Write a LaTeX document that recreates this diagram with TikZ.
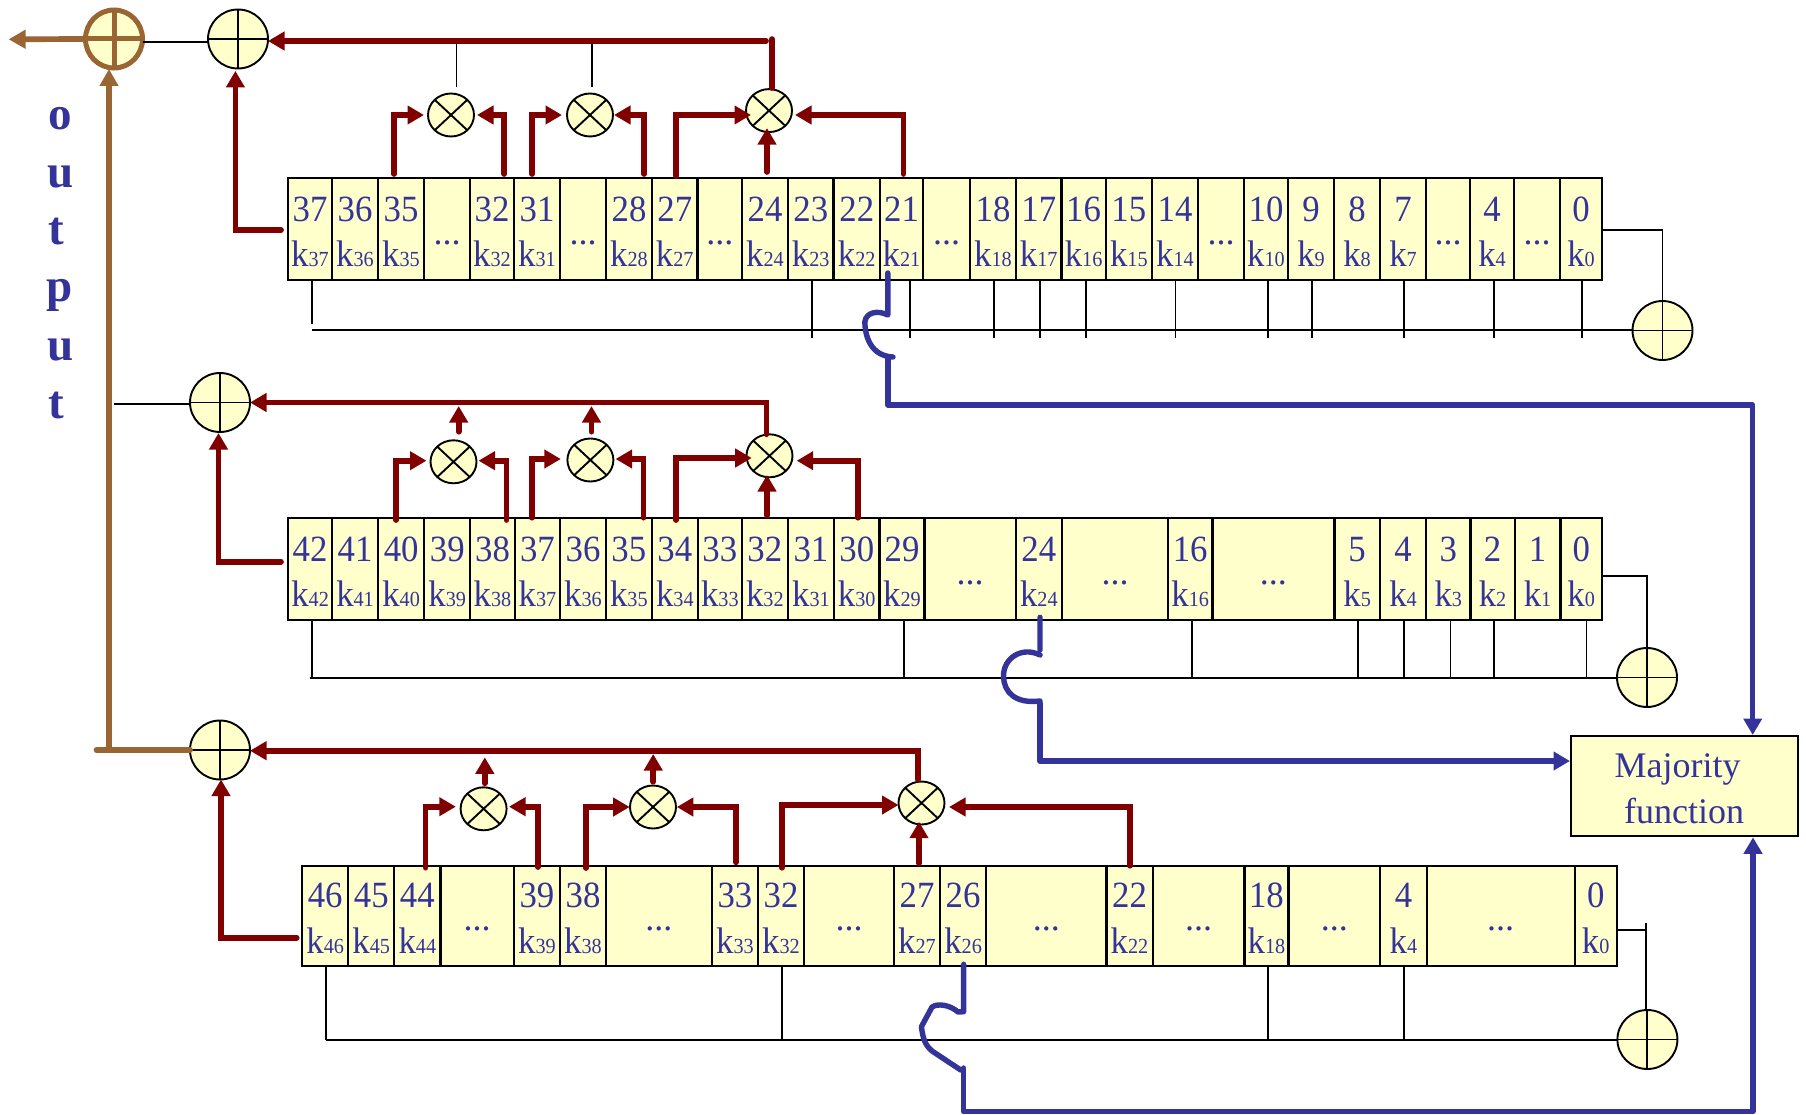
\documentclass[tikz,border=0pt]{standalone}
\usepackage{fontspec}
\setmainfont{Liberation Serif}
\newfontfamily\cellfam[FakeStretch=0.94]{Liberation Serif}
\usetikzlibrary{arrows.meta,shapes.geometric}
\definecolor{yel}{HTML}{FFFFCC}
\definecolor{dred}{HTML}{800000}
\definecolor{dblue}{HTML}{333399}
\definecolor{brn}{HTML}{996633}
\newcommand\bigf{\fontsize{36}{36}\selectfont}
\newcommand\celf{\cellfam\fontsize{37}{37}\selectfont}
\newcommand\subf{\cellfam\fontsize{21.5}{21.5}\selectfont}
\newcommand\outf{\fontsize{47}{47}\selectfont\bfseries}
\tikzset{
  cellbox/.style={draw=black,fill=yel,line width=2.2pt,inner sep=0pt,outer sep=0pt},
  txt/.style={text=dblue,anchor=base,inner sep=0pt,outer sep=0pt},
  wire/.style={draw=black,line width=1.8pt},
  xorn/.style={ellipse,draw=black,fill=yel,line width=1.9pt,inner sep=0pt,outer sep=0pt,minimum width=60pt,minimum height=59pt,
    path picture={\draw[line width=1.9pt] (path picture bounding box.north)--(path picture bounding box.south) (path picture bounding box.west)--(path picture bounding box.east);}},
  andn/.style={ellipse,draw=black,fill=yel,line width=1.9pt,inner sep=0pt,outer sep=0pt,minimum width=46pt,minimum height=43pt,
    path picture={\draw[line width=1.9pt] (path picture bounding box.north west)--(path picture bounding box.south east) (path picture bounding box.north east)--(path picture bounding box.south west);}},
  brownx/.style={ellipse,draw=brn,fill=yel,line width=5pt,inner sep=0pt,outer sep=0pt,minimum width=57pt,minimum height=58pt,
    path picture={\draw[line width=5pt,brn] (path picture bounding box.north)--(path picture bounding box.south) (path picture bounding box.west)--(path picture bounding box.east);}},
  redln/.style={draw=dred,line width=5.7pt,line cap=round},
  redar/.style={redln,-{Triangle[length=16.5pt,width=18pt]}},
  blueln/.style={draw=dblue,line width=5.4pt,line cap=round,line join=round},
  bluear/.style={blueln,-{Triangle[length=16.5pt,width=18pt]}},
  brnar/.style={draw=brn,line width=5.7pt,-{Triangle[length=17pt,width=18pt]}},
}
% #1 register, #2 centre y, #3 height, #4 digit baseline, #5 k baseline, #6 dots baseline, #7 numbered cells, #8 dots cells
\newcommand\regcells[8]{%
  \foreach \xa/\xb/\lab in {#7}{%
    \pgfmathsetmacro\cwid{\xb-\xa}\pgfmathsetmacro\ccx{(\xa+\xb)/2}%
    \node[cellbox,minimum width=\cwid pt,minimum height=#3pt] (#1c\lab) at (\ccx,#2) {};
    \node[txt] (#1n\lab) at (\ccx,#4) {\celf\lab};
    \node[txt] (#1k\lab) at (\ccx,#5) {\celf k\subf\lab};
  }%
  \foreach \xa/\xb/\lab in {#8}{%
    \pgfmathsetmacro\cwid{\xb-\xa}\pgfmathsetmacro\ccx{(\xa+\xb)/2}%
    \node[cellbox,minimum width=\cwid pt,minimum height=#3pt] (#1d\lab) at (\ccx,#2) {};
    \node[txt] (#1e\lab) at (\ccx,#6) {\bigf ...};
  }%
}
\begin{document}
\begin{tikzpicture}[x=1pt,y=-1pt]
\useasboundingbox (0,0) rectangle (1806,1115);

% ---------- registers
\regcells{r1}{228.85}{102.3}{222}{266}{244.5}{288/332/37,332/378/36,378/424/35,470/514/32,514/560/31,606/652/28,652/697.5/27,742/788/24,788/833.5/23,833.5/880/22,880/923/21,970/1016/18,1016/1061.5/17,1061.5/1105.6/16,1105.6/1152/15,1152/1198/14,1244/1288/10,1288/1334/9,1334/1380/8,1380/1426/7,1470/1514/4,1560/1602/0}{424/470/1,560/606/2,697.5/742/3,923/970/4,1198/1244/5,1426/1470/6,1514/1560/7}
\regcells{r2}{568.85}{102.3}{561.7}{606}{584.5}{288.2/332/42,332/378.1/41,378.1/424.2/40,424.2/470.3/39,470.3/514.7/38,514.7/560.2/37,560.2/605.8/36,605.8/651.8/35,651.8/697.9/34,697.9/741.8/33,741.8/787.9/32,787.9/834/31,834/879.5/30,879.5/924.5/29,1015.7/1062/24,1168/1212.4/16,1334.5/1379.8/5,1379.8/1426.2/4,1426.2/1470.4/3,1470.4/1514.6/2,1514.6/1560.4/1,1560.4/1602/0}{924.5/1015.7/1,1062/1168/2,1212.4/1334.5/3}
\regcells{r3}{915.7}{100}{907.3}{953.3}{930.5}{302.2/348.2/46,348.2/394.3/45,394.3/440.4/44,513.9/560/39,560/606/38,711.9/758/33,758/804/32,894/940/27,940/986.1/26,1106.4/1152.6/22,1244.5/1288.4/18,1380.3/1426.6/4,1574.6/1616.8/0}{440.4/513.9/1,606/711.9/2,804/894/3,986.1/1106.4/4,1152.6/1244.5/5,1288.4/1380.3/6,1426.6/1574.6/7}

% ---------- logic gates
\node[brownx] (bx) at (114,39) {};
\node[xorn] (x1) at (238,39) {};
\node[xorn] (x2) at (220,402.5) {};
\node[xorn] (x3) at (220,750) {};
\node[xorn] (xr1) at (1662.5,330.5) {};
\node[xorn] (xr2) at (1647,677.5) {};
\node[xorn] (xr3) at (1647.4,1039.5) {};
\node[andn] (a11) at (451,115) {};
\node[andn] (a12) at (590,115) {};
\node[andn] (a13) at (769,110.6) {};
\node[andn] (a21) at (453.5,461.8) {};
\node[andn] (a22) at (590.4,460) {};
\node[andn] (a23) at (769.5,455.8) {};
\node[andn] (a31) at (483.6,808.8) {};
\node[andn] (a32) at (653,807) {};
\node[andn] (a33) at (921.5,803) {};

% ---------- majority box
\node[cellbox,minimum width=227pt,minimum height=99.7pt] (maj) at (1684.5,785.85) {};
\node[txt] (majt) at (1677.6,777) {\bigf Majority};
\node[txt] (funt) at (1684,823) {\bigf function};

% ---------- output text
\node[txt] (o1) at (60,130) {\outf o};
\node[txt] (o2) at (61,188) {\outf u};
\node[txt] (o3) at (56,245) {\outf t};
\node[txt] (o4) at (60,301) {\outf p};
\node[txt] (o5) at (61,360) {\outf u};
\node[txt] (o6) at (56,418) {\outf t};

% ---------- bus lines and taps, register 1
\coordinate (b1) at (311.7,330);
\draw[wire] (b1) -- (b1 -| xr1.west);
\foreach \c/\d/\l in {37/2/44,23/1/58,21/8.5/58,18/1/58,17/1.4/58,16/2.5/58,14/.5/58,10/2/58,9/1/58,7/.6/58,4/2/58,0/.6/58}
  \draw[wire] ([xshift=\d pt]r1c\c.south) -- ++(0,\l);
\draw[wire] ([yshift=-1.15pt]r1c0.east) -| (xr1.north);
% register 2
\coordinate (b2) at (310,678);
\draw[wire] (b2) -- (b2 -| xr2.west);
\foreach \c/\d in {42/1.6,29/2,16/1.8,5/.85,4/1,3/2.2,2/1.5,0/5.25}
  \draw[wire] ([xshift=\d pt]r2c\c.south) -- ++(0,58);
\draw[wire] ([yshift=-7.15pt]r2c0.east) -| (xr2.north);
% register 3
\coordinate (b3) at (326.3,1040);
\draw[wire] (b3) -- (b3 -| xr3.west);
\foreach \c/\d in {46/1.1,32/1,18/1.75,4/.55}
  \draw[wire] ([xshift=\d pt]r3c\c.south) -- ++(0,74.3);
\draw[wire] ([yshift=-14.3pt]r3c0.east) -- ++(29.2,0);
\draw[wire] ([xshift=-1.2pt,yshift=87pt]xr3.north) -- ([xshift=-1.2pt]xr3.north);

% ---------- brown output network
\coordinate (outend) at (8.6,39.3);
\coordinate (brj) at (109,750);
\coordinate (brl) at (96.5,750);
\draw[wire] ([yshift=-3pt]bx.east) -- ([yshift=-3pt]x1.west);
\coordinate (w2) at (113.7,403.7);
\draw[wire] (w2) -- (w2 -| x2.west);
\draw[brnar] (bx.west) -- (outend);
\draw[brnar] (brj) -- ([xshift=-5pt,yshift=-1pt]bx.south);
\draw[draw=brn,line width=5.7pt,line cap=round] (brl) -- (x3.west);

% ---------- register 1 top
\coordinate (t11) at (456.4,86.7);
\coordinate (t12) at (592,86.7);
\draw[wire] (t11) -- ++(0,-45.7);
\draw[wire] (t12) -- ++(0,-45.7);
\coordinate (bar1) at (766,41);
\draw[redar] (bar1) -- (bar1 -| x1.east);
\draw[redln] ([xshift=3pt,yshift=1pt]a13.north) -- ++(0,-49);
\draw[redar] ([xshift=-6.9pt,yshift=3.7pt]r1c35.north) |- ([xshift=-4pt]a11.west);
\draw[redar] ([xshift=12.3pt,yshift=3.7pt]r1c32.north) |- ([xshift=3pt]a11.east);
\draw[redar] ([xshift=-4.75pt,yshift=3.7pt]r1c31.north) |- ([xshift=-5pt]a12.west);
\draw[redar] ([xshift=15.2pt,yshift=3.7pt]r1c28.north) |- ([xshift=1pt]a12.east);
\draw[redar] ([xshift=1.5pt,yshift=1.7pt]r1c27.north) |- ([xshift=5pt,yshift=-4.4pt]a13.west);
\draw[redar] ([xshift=1.9pt,yshift=3.7pt]r1c21.north) |- ([xshift=3pt,yshift=-4.4pt]a13.east);
\draw[redar] ([xshift=2pt,yshift=5.7pt]r1c24.north) -- ([xshift=-2pt,yshift=4pt]a13.south);
\draw[redar] ([xshift=-7pt,yshift=-1.15pt]r1c37.west) -| ([xshift=-2.6pt,yshift=-2.4pt]x1.south);

% ---------- register 2 top
\draw[redar] ([xshift=-3pt]a23.north) |- (x2.east);
\draw[redar] ([xshift=5.2pt,yshift=8.6pt]a21.north) -- ++(0,-25.7);
\draw[redar] ([xshift=1.1pt,yshift=6.8pt]a22.north) -- ++(0,-25.7);
\draw[redar] ([xshift=-5pt,yshift=-2.3pt]r2c40.north) |- ([xshift=-4pt,yshift=1.1pt]a21.west);
\draw[redar] ([xshift=14pt,yshift=-2.3pt]r2c38.north) |- ([xshift=2pt,yshift=1.1pt]a21.east);
\draw[redar] ([xshift=-5.75pt]r2c37.north) |- ([xshift=-6.6pt,yshift=1pt]a22.west);
\draw[redar] ([xshift=14.8pt]r2c35.north) |- ([xshift=2.2pt,yshift=1pt]a22.east);
\draw[redar] ([xshift=1.15pt,yshift=-2.3pt]r2c34.north) |- ([xshift=5.2pt,yshift=-2.2pt]a23.west);
\draw[redar] ([xshift=1.25pt]r2c30.north) |- ([xshift=4.2pt,yshift=-4.9pt]a23.east);
\draw[redar] ([xshift=2.15pt,yshift=2pt]r2c32.north) -- ([xshift=-2.5pt,yshift=2.3pt]a23.south);
\draw[redar] ([xshift=-7.2pt,yshift=7.15pt]r2c42.west) -| ([xshift=-1.5pt,yshift=-1pt]x2.south);

% ---------- register 3 top
\draw[redar] ([xshift=-3.5pt,yshift=2pt]a33.north) |- ([yshift=-.7pt]x3.east);
\draw[redar] ([xshift=1.2pt,yshift=4pt]a31.north) -- ++(0,-26);
\draw[redar] ([xshift=.2pt,yshift=3.8pt]a32.north) -- ++(0,-27.7);
\draw[redar] ([xshift=8.25pt,yshift=-2pt]r3c44.north) |- ([xshift=-4.8pt,yshift=2.1pt]a31.west);
\draw[redar] ([xshift=1pt,yshift=-1.3pt]r3c39.north) |- ([xshift=2.4pt,yshift=2.1pt]a31.east);
\draw[redar] ([xshift=2.8pt,yshift=-2.3pt]r3c38.north) |- ([xshift=-.4pt]a32.west);
\draw[redar] ([xshift=1pt,yshift=3.4pt]r3c33.north) |- ([xshift=.8pt]a32.east);
\draw[redar] ([xshift=1pt,yshift=-2pt]r3c32.north) |- ([yshift=-2pt]a33.west);
\draw[redar] ([xshift=.5pt]r3c22.north) |- ([xshift=4.5pt,yshift=-4pt]a33.east);
\draw[redar] ([xshift=2pt,yshift=2.4pt]r3c27.north) -- ([xshift=-2.5pt,yshift=2.8pt]a33.south);
\draw[redar] ([xshift=-5.5pt,yshift=-22pt]r3c46.west) -| ([xshift=1pt]x3.south);

% ---------- blue lines
\draw[blueln] ([xshift=-13.7pt,yshift=7pt]r1c21.south) -- (887.8,315)
  .. controls (878,310) and (866,312) .. (864.8,322)
  .. controls (865,335) and (870,356) .. (893,357);
\draw[bluear] (887.8,357) -- (887.8,405) -| ([xshift=68.2pt,yshift=1pt]maj.north);

\draw[blueln] ([xshift=1.15pt,yshift=2.7pt]r2c24.south) -- (1040,650);
\draw[blueln] (1040,655) .. controls (1022,646) and (1003,658) .. (1003.5,676.7)
  .. controls (1004,692) and (1015,704) .. (1040,701);
\draw[bluear] (1040,703) |- ([xshift=-1pt,yshift=24.85pt]maj.west);

\draw[blueln] ([xshift=.6pt,yshift=1.4pt]r3c26.south) -- (963.6,1011.7)
  -- (958,1012) .. controls (950,1005) and (938,1003) .. (932,1007)
  -- (921.4,1026.7) .. controls (923,1040) and (926,1046) .. (932,1051)
  -- (960.7,1070);
\draw[bluear] (963.6,1068) -- (963.6,1111.7) -| ([xshift=68.5pt,yshift=-1.6pt]maj.south);
\end{tikzpicture}
\end{document}
